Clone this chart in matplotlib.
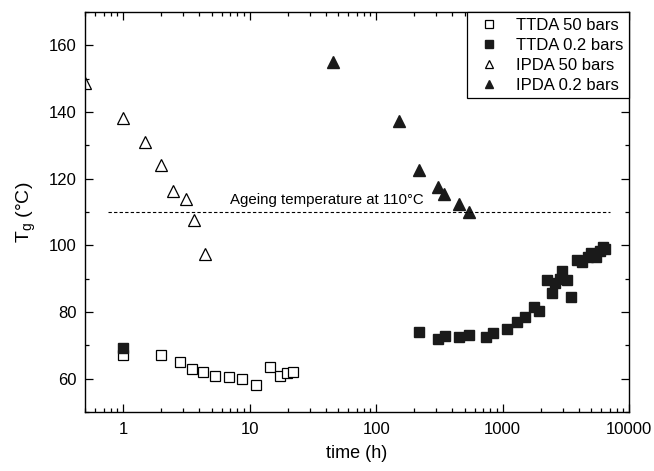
import matplotlib
matplotlib.use('Agg')
import matplotlib.pyplot as plt
from matplotlib.ticker import LogLocator, MultipleLocator, FixedFormatter, FixedLocator

plt.rcParams['font.family'] = ['Liberation Sans', 'DejaVu Sans']
plt.rcParams['mathtext.fontset'] = 'custom'
plt.rcParams['mathtext.rm'] = 'Liberation Sans'

#************************DATA************************
ttda50Time = [1.0, 2.0, 2.84, 3.51, 4.26, 5.34, 6.92, 8.68, 11.2, 14.4, 17.5, 19.9, 22.2]
ttda50Tg = [67.1, 67.1, 65.0, 62.9, 62.1, 60.7, 60.5, 60.0, 58.0, 63.5, 60.8, 61.7, 62.1]

ttda02Time = [1.0, 220, 311, 353, 453, 547, 741, 846, 1091, 1303, 1515, 1765, 1955,
              2260, 2445, 2612, 2849, 2972, 3214, 3480, 3862, 4227, 4688, 4978,
              5480, 5897, 6194, 6457]
ttda02Tg = [69.1, 73.9, 72.0, 72.8, 72.6, 73.2, 72.6, 73.8, 75.0, 77.1, 78.6, 81.6, 80.2,
            89.6, 85.8, 88.8, 89.8, 92.2, 89.6, 84.4, 95.6, 95.0, 96.6, 97.8,
            96.6, 98.2, 99.6, 99.0]

ipda50Time = [0.5, 1.0, 1.5, 2.0, 2.5, 3.13, 3.64, 4.45]
ipda50Tg = [148.6, 138.3, 131.1, 124.0, 116.2, 114.0, 107.5, 97.5]

ipda02Time = [45.5, 151, 219, 311, 347, 453, 547]
ipda02Tg = [155.0, 137.3, 122.5, 117.4, 115.3, 112.3, 110.0]

ageingTemp = 110
ageingSpan = [0.76, 7000]
xTicks = [1, 10, 100, 1000, 10000]
xTickLabels = ['1', '10', '100', '1000', '10000']

#************************PLOT************************
fig, ax = plt.subplots(figsize=(6.54, 4.71), dpi=100)
fig.subplots_adjust(left=0.130, right=0.962, top=0.975, bottom=0.125)

ax.plot(ttda50Time, ttda50Tg, linestyle='none', marker='s', markersize=7,
        markerfacecolor='white', markeredgecolor='black', markeredgewidth=0.9,
        label='TTDA 50 bars')
ax.plot(ttda02Time, ttda02Tg, linestyle='none', marker='s', markersize=7,
        color='#1a1a1a', label='TTDA 0.2 bars')
ax.plot(ipda50Time, ipda50Tg, linestyle='none', marker='^', markersize=8,
        markerfacecolor='white', markeredgecolor='black', markeredgewidth=0.9,
        label='IPDA 50 bars')
ax.plot(ipda02Time, ipda02Tg, linestyle='none', marker='^', markersize=8,
        color='#1a1a1a', label='IPDA 0.2 bars')

ax.plot(ageingSpan, [ageingTemp, ageingTemp], color='black', linestyle=(0, (3, 2)), linewidth=0.8)
ax.text(40.5, 111.5, 'Ageing temperature at 110°C', ha='center', va='bottom', fontsize=10.8)

ax.set_xscale('log')
ax.set_xlim(0.5, 10000)
ax.set_ylim(50, 170)
ax.xaxis.set_major_locator(FixedLocator(xTicks))
ax.xaxis.set_major_formatter(FixedFormatter(xTickLabels))
ax.xaxis.set_minor_locator(LogLocator(base=10, subs=range(2, 10)))
ax.xaxis.set_minor_formatter(FixedFormatter([]))
ax.yaxis.set_major_locator(MultipleLocator(20))
ax.yaxis.set_minor_locator(MultipleLocator(10))
ax.set_yticks([60, 80, 100, 120, 140, 160])

ax.tick_params(which='both', direction='in', top=True, right=True, labelsize=12, width=0.9)
ax.tick_params(which='major', length=6)
ax.tick_params(which='minor', length=3)
ax.tick_params(axis='x', pad=7)
ax.tick_params(axis='y', pad=6)
for side in ax.spines.values():
    side.set_linewidth(1.0)

ax.set_xlabel('time (h)', fontsize=13, labelpad=6)
ax.set_ylabel(r'T$_\mathregular{g}$ (°C)', fontsize=14, labelpad=8)

leg = ax.legend(loc='upper right', fontsize=12, frameon=True, fancybox=False, framealpha=1.0,
                edgecolor='black', handletextpad=0.6, borderpad=0.35, labelspacing=0.3,
                borderaxespad=0.0, handlelength=2.0, markerscale=0.8,
                bbox_to_anchor=(1.0, 1.0))
leg.get_frame().set_linewidth(0.9)

fig.savefig('out.png', dpi=100)
